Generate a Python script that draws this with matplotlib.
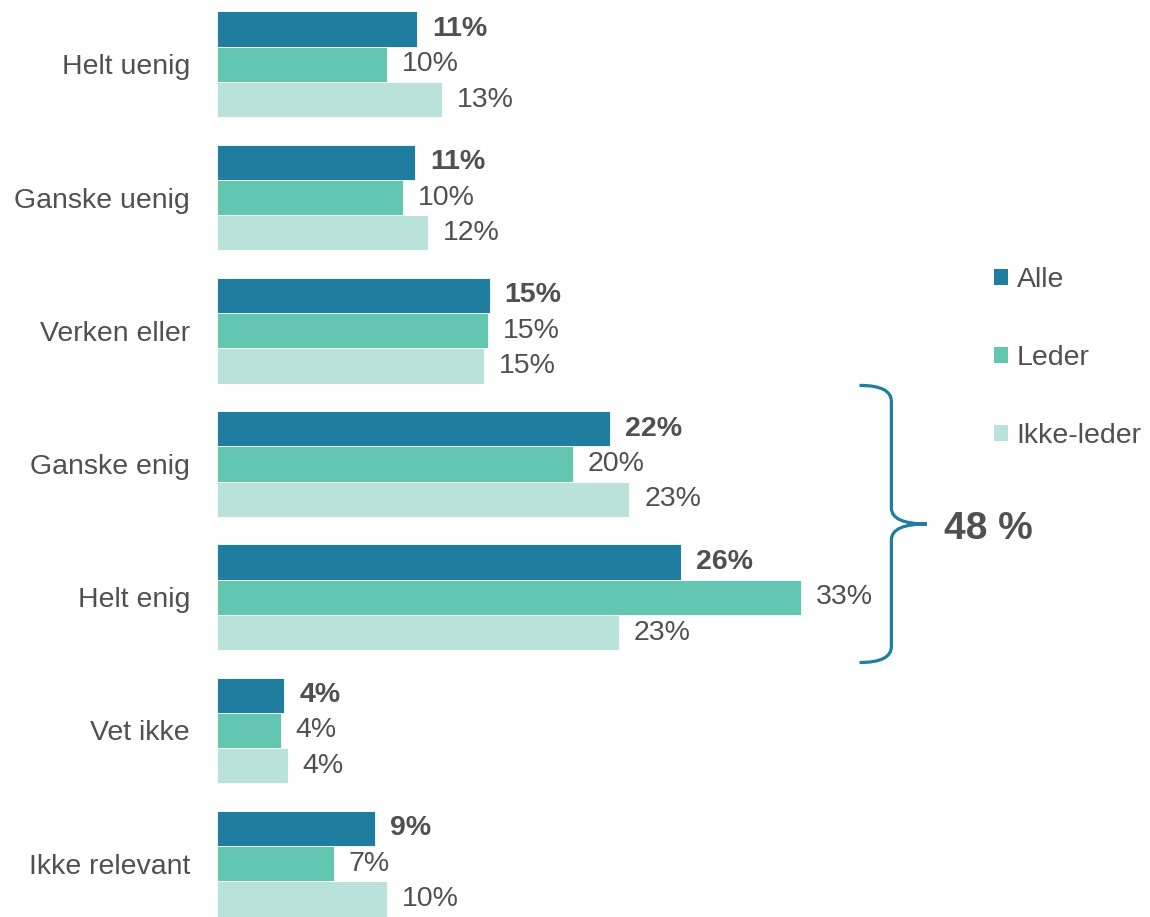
import matplotlib
matplotlib.use("Agg")
import matplotlib.pyplot as plt
import numpy as np
from matplotlib.path import Path
from matplotlib.patches import PathPatch, Patch

plt.rcParams["font.family"] = ["Liberation Sans", "DejaVu Sans"]

categories = ["Helt uenig", "Ganske uenig", "Verken eller", "Ganske enig",
              "Helt enig", "Vet ikke", "Ikke relevant"]
series = ["Alle", "Leder", "Ikke-leder"]
alle = [11.3, 11.2, 15.4, 22.2, 26.2, 3.8, 8.9]
leder = [9.6, 10.5, 15.3, 20.1, 33.0, 3.6, 6.6]
ikke_leder = [12.7, 11.9, 15.1, 23.3, 22.7, 4.0, 9.6]
enig_total = "48 %"

COLORS = ["#1f7ea0", "#63c6b1", "#b8e2da"]
TEXT = "#505050"
FS = 20.5

fig = plt.figure(figsize=(11.5, 9.17), dpi=100)
ax = fig.add_axes([217 / 1150, 0, 1 - 217 / 1150, 1 - 11 / 917])

y = np.arange(len(categories))
h = 0.265
for k, (name, vals) in enumerate(zip(series, [alle, leder, ikke_leder])):
    pos = y + (k - 1) * h
    ax.barh(pos, vals, height=h, color=COLORS[k], edgecolor="white",
            linewidth=0.6, label=name)
    for p, v in zip(pos, vals):
        ax.annotate(f"{v:.0f}%", (v, p), xytext=(15, 0), textcoords="offset pixels",
                    ha="left", va="center", fontsize=FS, color=TEXT,
                    fontweight="bold" if k == 0 else "normal")

ax.set_xlim(0, (1150 - 217) / 17.7)
ax.set_ylim(6.4, -0.4)
ax.set_yticks(y)
ax.set_yticklabels(categories, fontsize=FS, color=TEXT)
ax.tick_params(axis="y", length=0, pad=19.5)
ax.set_xticks([])
for s in ax.spines.values():
    s.set_visible(False)

# curly brace grouping "Ganske enig" and "Helt enig"
x0, x1, x2 = 36.3, 38.1, 40.1
top, mid, bot = 2.41, 3.45, 4.49
r = 0.12
verts = [(x0, top), (x1, top), (x1, top + r),
         (x1, mid - r), (x1, mid), (x2, mid),
         (x2, mid), (x1, mid), (x1, mid + r),
         (x1, bot - r), (x1, bot), (x0, bot)]
codes = [Path.MOVETO, Path.CURVE3, Path.CURVE3,
         Path.LINETO, Path.CURVE3, Path.CURVE3,
         Path.MOVETO, Path.CURVE3, Path.CURVE3,
         Path.LINETO, Path.CURVE3, Path.CURVE3]
ax.add_patch(PathPatch(Path(verts, codes), facecolor="none",
                       edgecolor=COLORS[0], linewidth=2.3, clip_on=False))
ax.text(x2 + 1.0, mid + 0.04, enig_total, ha="left", va="center", fontsize=28,
        fontweight="bold", color=TEXT)

handles = [Patch(facecolor=c, edgecolor="none") for c in COLORS]
leg = fig.legend(handles, series, loc="upper left",
                 bbox_to_anchor=(994 / 1150, 1 - 267 / 917), frameon=False,
                 fontsize=FS, handlelength=0.5, handleheight=0.5,
                 handletextpad=0.3, labelspacing=1.83, borderpad=0,
                 borderaxespad=0)
for t in leg.get_texts():
    t.set_color(TEXT)

fig.savefig("out.png", dpi=100)
